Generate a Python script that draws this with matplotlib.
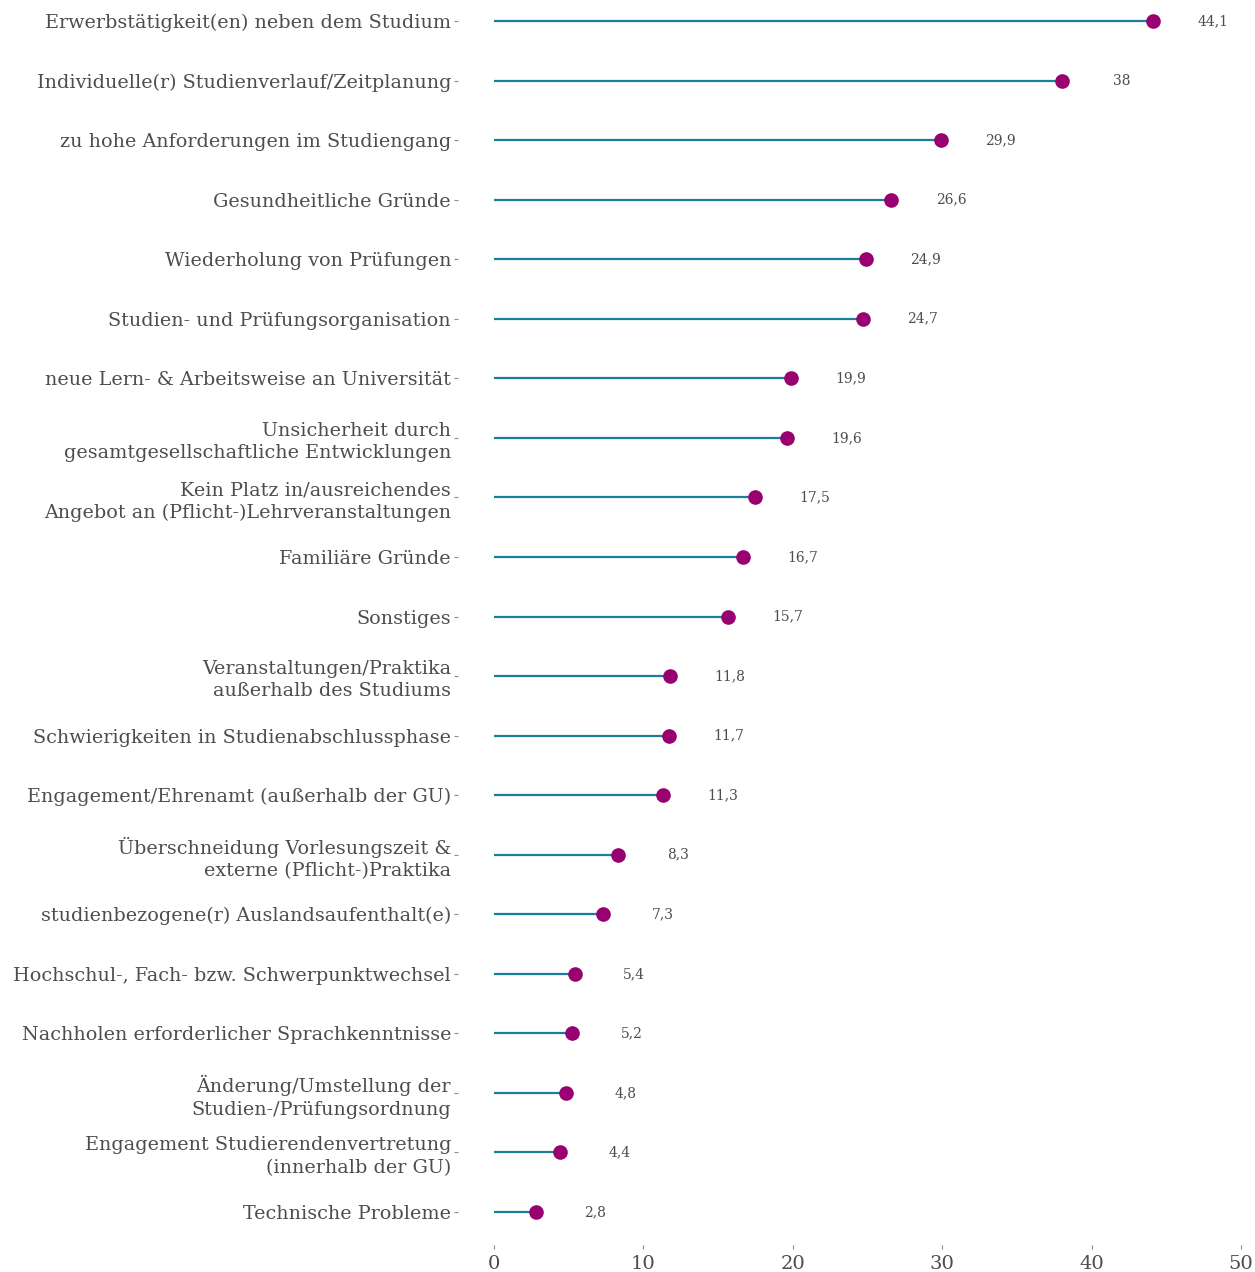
import matplotlib
matplotlib.use("Agg")
import matplotlib.pyplot as plt

# reasons, top to bottom, with share in percent
reasons = [
    "Erwerbstätigkeit(en) neben dem Studium",
    "Individuelle(r) Studienverlauf/Zeitplanung",
    "zu hohe Anforderungen im Studiengang",
    "Gesundheitliche Gründe",
    "Wiederholung von Prüfungen",
    "Studien- und Prüfungsorganisation",
    "neue Lern- & Arbeitsweise an Universität",
    "Unsicherheit durch\ngesamtgesellschaftliche Entwicklungen",
    "Kein Platz in/ausreichendes\nAngebot an (Pflicht-)Lehrveranstaltungen",
    "Familiäre Gründe",
    "Sonstiges",
    "Veranstaltungen/Praktika\naußerhalb des Studiums",
    "Schwierigkeiten in Studienabschlussphase",
    "Engagement/Ehrenamt (außerhalb der GU)",
    "Überschneidung Vorlesungszeit &\nexterne (Pflicht-)Praktika",
    "studienbezogene(r) Auslandsaufenthalt(e)",
    "Hochschul-, Fach- bzw. Schwerpunktwechsel",
    "Nachholen erforderlicher Sprachkenntnisse",
    "Änderung/Umstellung der\nStudien-/Prüfungsordnung",
    "Engagement Studierendenvertretung\n(innerhalb der GU)",
    "Technische Probleme",
]
values = [44.1, 38, 29.9, 26.6, 24.9, 24.7, 19.9, 19.6, 17.5, 16.7, 15.7,
          11.8, 11.7, 11.3, 8.3, 7.3, 5.4, 5.2, 4.8, 4.4, 2.8]
x_ticks = [0, 10, 20, 30, 40, 50]

stem_col = "#1a7d9c"
dot_col = "#990070"
text_col = "#4d4d4d"

plt.rcParams["font.family"] = ["DejaVu Serif"]

fig = plt.figure(figsize=(12.55, 12.72), dpi=100)
ax = fig.add_axes([458 / 1255, 1 - 1245 / 1272, 1 - 458 / 1255, 1245 / 1272])

ypos = list(range(len(reasons)))
ax.hlines(ypos, 0, values, color=stem_col, lw=1.6, zorder=2)
ax.plot(values, ypos, "o", color=dot_col, ms=9.5, zorder=3)

def fmt(v):
    s = f"{v:.1f}".replace(".", ",")
    return s[:-2] if s.endswith(",0") else s

for y, v in zip(ypos, values):
    ax.text(v + 4, y, fmt(v), ha="center", va="center",
            fontsize=10, color=text_col)

ax.set_xlim(-2.4, 50.94)
ax.set_ylim(20.554, -0.353)
ax.set_xticks(x_ticks)
ax.set_xticklabels([str(t) for t in x_ticks])
ax.set_yticks(ypos)
ax.set_yticklabels(reasons, linespacing=1.3)

for s in ax.spines.values():
    s.set_visible(False)
ax.tick_params(axis="both", colors="#8a8a8a", length=3, width=0.8,
               labelcolor=text_col, labelsize=13.8)
ax.tick_params(axis="x", labelsize=14, pad=4)
ax.tick_params(axis="y", pad=2)

fig.savefig("out.png", dpi=100)
